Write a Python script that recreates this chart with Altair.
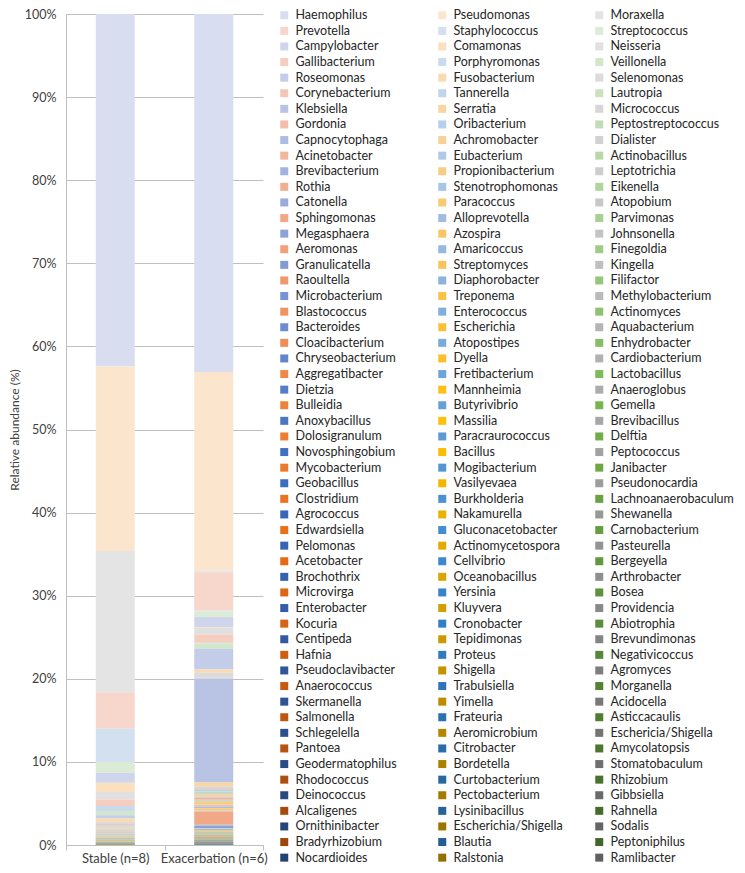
import altair as alt
import pandas as pd
import colorsys

groups = ["Stable (n=8)", "Exacerbation (n=6)"]

col1 = ["Haemophilus", "Prevotella", "Campylobacter", "Gallibacterium", "Roseomonas", "Corynebacterium",
        "Klebsiella", "Gordonia", "Capnocytophaga", "Acinetobacter", "Brevibacterium", "Rothia", "Catonella",
        "Sphingomonas", "Megasphaera", "Aeromonas", "Granulicatella", "Raoultella", "Microbacterium",
        "Blastococcus", "Bacteroides", "Cloacibacterium", "Chryseobacterium", "Aggregatibacter", "Dietzia",
        "Bulleidia", "Anoxybacillus", "Dolosigranulum", "Novosphingobium", "Mycobacterium", "Geobacillus",
        "Clostridium", "Agrococcus", "Edwardsiella", "Pelomonas", "Acetobacter", "Brochothrix", "Microvirga",
        "Enterobacter", "Kocuria", "Centipeda", "Hafnia", "Pseudoclavibacter", "Anaerococcus", "Skermanella",
        "Salmonella", "Schlegelella", "Pantoea", "Geodermatophilus", "Rhodococcus", "Deinococcus",
        "Alcaligenes", "Ornithinibacter", "Bradyrhizobium", "Nocardioides"]
col2 = ["Pseudomonas", "Staphylococcus", "Comamonas", "Porphyromonas", "Fusobacterium", "Tannerella",
        "Serratia", "Oribacterium", "Achromobacter", "Eubacterium", "Propionibacterium", "Stenotrophomonas",
        "Paracoccus", "Alloprevotella", "Azospira", "Amaricoccus", "Streptomyces", "Diaphorobacter",
        "Treponema", "Enterococcus", "Escherichia", "Atopostipes", "Dyella", "Fretibacterium", "Mannheimia",
        "Butyrivibrio", "Massilia", "Paracraurococcus", "Bacillus", "Mogibacterium", "Vasilyevaea",
        "Burkholderia", "Nakamurella", "Gluconacetobacter", "Actinomycetospora", "Cellvibrio",
        "Oceanobacillus", "Yersinia", "Kluyvera", "Cronobacter", "Tepidimonas", "Proteus", "Shigella",
        "Trabulsiella", "Yimella", "Frateuria", "Aeromicrobium", "Citrobacter", "Bordetella",
        "Curtobacterium", "Pectobacterium", "Lysinibacillus", "Escherichia/Shigella", "Blautia", "Ralstonia"]
col3 = ["Moraxella", "Streptococcus", "Neisseria", "Veillonella", "Selenomonas", "Lautropia", "Micrococcus",
        "Peptostreptococcus", "Dialister", "Actinobacillus", "Leptotrichia", "Eikenella", "Atopobium",
        "Parvimonas", "Johnsonella", "Finegoldia", "Kingella", "Filifactor", "Methylobacterium", "Actinomyces",
        "Aquabacterium", "Enhydrobacter", "Cardiobacterium", "Lactobacillus", "Anaeroglobus", "Gemella",
        "Brevibacillus", "Delftia", "Peptococcus", "Janibacter", "Pseudonocardia", "Lachnoanaerobaculum",
        "Shewanella", "Carnobacterium", "Pasteurella", "Bergeyella", "Arthrobacter", "Bosea", "Providencia",
        "Abiotrophia", "Brevundimonas", "Negativicoccus", "Agromyces", "Morganella", "Acidocella",
        "Asticcacaulis", "Eschericia/Shigella", "Amycolatopsis", "Stomatobaculum", "Rhizobium", "Gibbsiella",
        "Rahnella", "Sodalis", "Peptoniphilus", "Ramlibacter"]

# Relative abundance (%) - Stable (n=8)
stable_c1 = [42.4, 4.4, 1.2, 0.8, 0.4, 0.15, 0.05, 0.06, 0.05, 0.05, 0.04, 0.04, 0.03, 0.03, 0.03, 0.03,
             0.02, 0.03, 0.02, 0.03, 0.02, 0.02, 0.015, 0.02, 0.01, 0.01, 0.015, 0.01, 0.01, 0.01, 0.01,
             0.005, 0.004, 0.005, 0.003, 0.004, 0.003, 0.004, 0.003, 0.003, 0.002, 0.003, 0.002, 0.002,
             0.003, 0.002, 0.002, 0.002, 0.001, 0.002, 0.001, 0.001, 0.002, 0.001, 0.001]
stable_c2 = [22.2, 4.0, 1.1, 0.6, 0.4, 0.1, 0.1, 0.06, 0.05, 0.05, 0.04, 0.04, 0.03, 0.025, 0.03, 0.02,
             0.025, 0.02, 0.03, 0.02, 0.02, 0.015, 0.02, 0.01, 0.015, 0.01, 0.01, 0.01, 0.01, 0.008, 0.008,
             0.004, 0.005, 0.003, 0.004, 0.003, 0.003, 0.004, 0.002, 0.003, 0.002, 0.003, 0.002, 0.002,
             0.002, 0.001, 0.002, 0.002, 0.001, 0.001, 0.002, 0.001, 0.001, 0.001, 0.001]
stable_c3 = [17.0, 1.3, 0.9, 0.5, 0.25, 0.1, 0.08, 0.06, 0.05, 0.05, 0.05, 0.04, 0.03, 0.03, 0.025, 0.03,
             0.02, 0.025, 0.02, 0.03, 0.015, 0.02, 0.015, 0.015, 0.01, 0.015, 0.01, 0.01, 0.01, 0.008, 0.008,
             0.005, 0.004, 0.004, 0.003, 0.003, 0.004, 0.003, 0.003, 0.002, 0.003, 0.002, 0.002, 0.002,
             0.002, 0.001, 0.002, 0.001, 0.001, 0.002, 0.001, 0.001, 0.001, 0.001, 0.001]

# Relative abundance (%) - Exacerbation (n=6)
exac_c1 = [43.1, 4.6, 1.2, 1.0, 2.5, 0.05, 12.5, 0.1, 0.1, 0.3, 0.05, 0.15, 0.1, 1.6, 0.3, 0.03,
           0.05, 0.03, 0.02, 0.03, 0.04, 0.03, 0.02, 0.03, 0.03, 0.03, 0.02, 0.03, 0.02, 0.02, 0.02,
           0.01, 0.015, 0.01, 0.015, 0.01, 0.015, 0.01, 0.015, 0.01, 0.01, 0.01, 0.008, 0.01, 0.008,
           0.008, 0.006, 0.008, 0.006, 0.005, 0.006, 0.005, 0.005, 0.004, 0.004]
exac_c2 = [23.9, 0.1, 0.1, 0.05, 0.4, 0.03, 0.5, 0.2, 0.25, 0.05, 0.4, 0.05, 0.3, 0.05, 0.03, 0.03,
           0.03, 0.02, 0.06, 0.03, 0.03, 0.03, 0.02, 0.02, 0.03, 0.02, 0.02, 0.02, 0.03, 0.02, 0.02,
           0.015, 0.01, 0.01, 0.015, 0.01, 0.015, 0.01, 0.01, 0.012, 0.01, 0.008, 0.01, 0.008, 0.006,
           0.008, 0.006, 0.005, 0.006, 0.005, 0.005, 0.004, 0.005, 0.004, 0.004]
exac_c3 = [0.2, 0.7, 0.8, 0.65, 0.6, 0.02, 0.3, 0.25, 0.1, 0.1, 0.05, 0.05, 0.1, 0.05, 0.03, 0.06,
           0.03, 0.06, 0.02, 0.06, 0.02, 0.03, 0.03, 0.03, 0.03, 0.02, 0.02, 0.02, 0.02, 0.02, 0.015,
           0.01, 0.015, 0.015, 0.01, 0.015, 0.01, 0.01, 0.012, 0.01, 0.01, 0.008, 0.01, 0.008, 0.006,
           0.008, 0.006, 0.005, 0.006, 0.005, 0.005, 0.004, 0.004, 0.004, 0.004]

# Colour families per legend column (even rows, odd rows), with hue drift of the light tints
col_bases = [(("#4472C4", 8), ("#ED7D31", -10)),
             (("#FFC000", -13), ("#5B9BD5", 5)),
             (("#A5A5A5", 0), ("#70AD47", 8))]


def shade(base, r, n):
    hexc, hdrift = base
    rr, gg, bb = [int(hexc[i:i + 2], 16) / 255 for i in (1, 3, 5)]
    h, l, s = colorsys.rgb_to_hls(rr, gg, bb)
    mid = (n - 1) / 2
    if r <= mid:
        f = 1 - r / mid
        L = l + (0.895 - l) * f
        S = s * (1 - 0.15 * f)
        h = (h + hdrift / 360 * f) % 1
    else:
        f = (r - mid) / (n - 1 - mid)
        L = l * (1 - 0.42 * f)
        S = s
    r2, g2, b2 = colorsys.hls_to_rgb(h, L, S)
    return "#%02x%02x%02x" % (round(r2 * 255), round(g2 * 255), round(b2 * 255))


cols = [col1, col2, col3]
stab = [stable_c1, stable_c2, stable_c3]
exac = [exac_c1, exac_c2, exac_c3]
nrows = len(col1)

col_colors = [[shade(col_bases[c][r % 2], r, nrows) for r in range(nrows)] for c in range(3)]
all_names = col1 + col2 + col3
all_colors = col_colors[0] + col_colors[1] + col_colors[2]

# series order (row-major) drives the stacking: first series on top
rows = []
idx = 0
for r in range(nrows):
    for c in range(3):
        rows.append({"genus": cols[c][r], "group": groups[0], "value": stab[c][r], "s": idx})
        rows.append({"genus": cols[c][r], "group": groups[1], "value": exac[c][r], "s": idx})
        idx += 1

df = pd.DataFrame(rows)

bars = alt.Chart(df).mark_bar(size=39).encode(
    x=alt.X("group:N", sort=groups, title=None,
            scale=alt.Scale(paddingInner=0, paddingOuter=0),
            axis=alt.Axis(labelAngle=0, tickBand="extent", domainColor="#BFBFBF", tickColor="#BFBFBF",
                          tickSize=5, labelFontSize=13, labelColor="#404040", labelPadding=2, grid=False)),
    y=alt.Y("value:Q", stack="normalize", title="Relative abundance (%)",
            scale=alt.Scale(domain=[0, 1], nice=False),
            axis=alt.Axis(format=".0%", values=[i / 10 for i in range(11)], grid=True, gridColor="#BFBFBF",
                          domainColor="#BFBFBF", ticks=False, labelPadding=10, labelFontSize=12.5,
                          labelColor="#404040", titleFontSize=12, titleFontWeight="normal",
                          titleColor="#404040", titlePadding=3)),
    color=alt.Color("genus:N", scale=alt.Scale(domain=all_names, range=all_colors), legend=None),
    order=alt.Order("s:Q", sort="descending"),
)

legend_x = [212, 370, 527]
legend_layers = []
for c in range(3):
    ldf = pd.DataFrame({"genus": cols[c]})
    legend_layers.append(
        alt.Chart(ldf).mark_square(size=0, strokeWidth=0).encode(
            color=alt.Color("genus:N", scale=alt.Scale(domain=cols[c], range=col_colors[c]),
                            legend=alt.Legend(title=None, orient="none", legendX=legend_x[c], legendY=-5,
                                              symbolLimit=100, symbolType="square", symbolSize=64,
                                              symbolStrokeWidth=0, symbolOpacity=1,
                                              labelFontSize=12.5, labelColor="#262626", rowPadding=2.6,
                                              labelOffset=5, padding=0, labelLimit=200))
        )
    )

chart = alt.layer(bars, *legend_layers).resolve_scale(color="independent").properties(
    width=197, height=831, padding={"left": 0, "top": 0, "right": 0, "bottom": 0}
).configure(font="Lato").configure_view(stroke=None)

chart.save("out.html", embed_options={"renderer": "svg", "actions": False})
